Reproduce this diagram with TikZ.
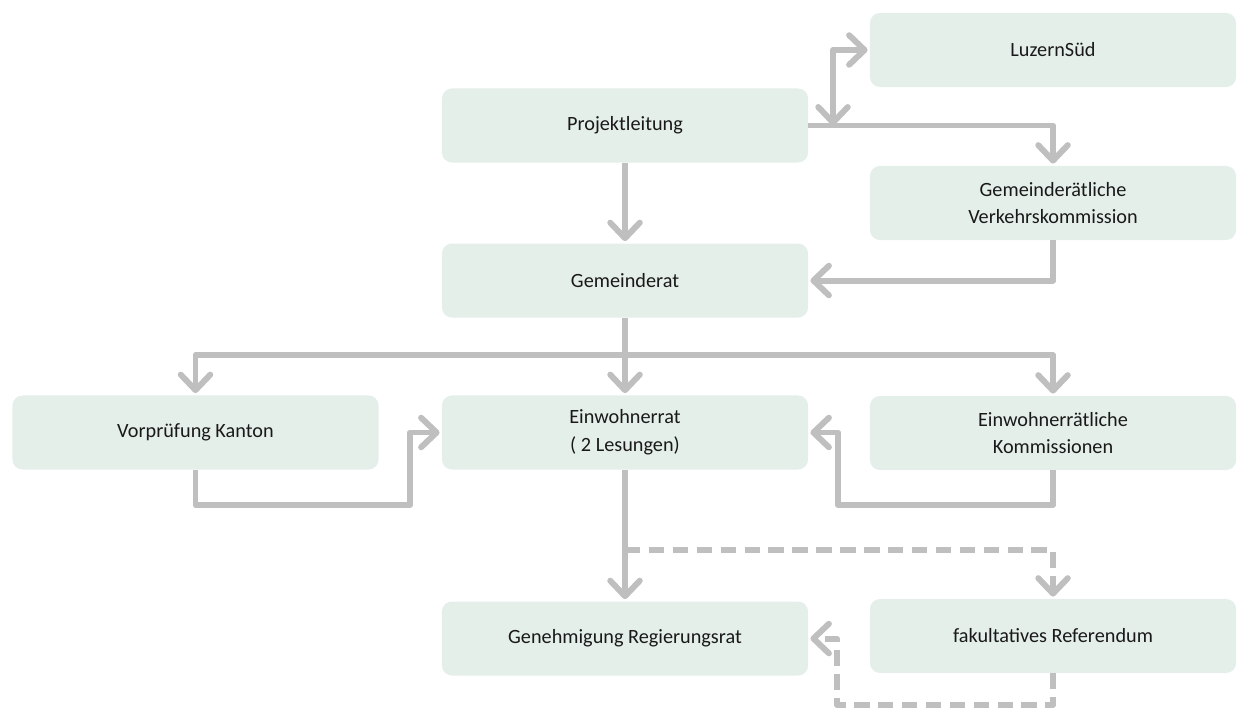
\documentclass[tikz,border=0pt]{standalone}
\usepackage{fontspec}
\setmainfont{Carlito}
\usetikzlibrary{positioning,arrows.meta}
\definecolor{boxfill}{RGB}{229,239,233}
\definecolor{arrowgray}{RGB}{191,191,191}

\begin{document}
\begin{tikzpicture}[x=0.025cm, y=-0.025cm,
  >={Straight Barb[length=11pt,width=21pt,round]},
  box/.style={fill=boxfill, rounded corners=0.25cm, minimum width=9.15cm, minimum height=1.85cm, align=center, text=black!90, font=\fontsize{14.4pt}{19.8pt}\selectfont},
  flow/.style={draw=arrowgray, line width=4.25pt, line join=round, shorten >=1.5pt, ->},
  dashflow/.style={flow, dash pattern=on 11pt off 6pt}]

\useasboundingbox (0,0) rectangle (1240,708);

\node[box] (luzern) at (1053,50) {LuzernSüd};
\node[box] (proj) at (625,125.5) {Projektleitung};
\node[box] (verkehr) at (1053,203) {Gemeinderätliche\\Verkehrskommission};
\node[box, below of=proj, node distance=3.875cm] (gemeinderat) {Gemeinderat};
\node[box] (vorpruefung) at (195.5,432.5) {Vorprüfung Kanton};
\node[box] (einwohnerrat) at (625,432.5) {Einwohnerrat\\( 2 Lesungen)};
\node[box] (kommissionen) at (1053,433) {Einwohnerrätliche\\Kommissionen};
\node[box, below of=einwohnerrat, node distance=5.15cm] (genehmigung) {Genehmigung Regierungsrat};
\node[box] (referendum) at (1053,636) {fakultatives Referendum};

\coordinate (luzjoin) at (833,125.5);
\coordinate (split) at (625,355);
\coordinate (vkloop) at (410,505);
\coordinate (kmloop) at (838,505);
\coordinate (refsplit) at (625,550);
\coordinate (refloop) at (837,705);

\draw [flow] (proj.east) -| (verkehr.north);
\draw [flow, <->] (luzjoin) |- (luzern.west);
\draw [flow] (verkehr.south) |- (gemeinderat.east);
\draw [flow] (proj.south) -- (gemeinderat.north);
\draw [flow] (gemeinderat.south) -- (einwohnerrat.north);
\draw [flow] (split) -| (vorpruefung.north);
\draw [flow] (split) -| (kommissionen.north);
\draw [flow] (vorpruefung.south) |- (vkloop) |- (einwohnerrat.west);
\draw [flow] (kommissionen.south) |- (kmloop) |- (einwohnerrat.east);
\draw [flow] (einwohnerrat.south) -- (genehmigung.north);
\draw [dashflow] (refsplit) -| (referendum.north);
\draw [dashflow] (referendum.south) |- (refloop) |- (genehmigung.east);

\end{tikzpicture}
\end{document}
